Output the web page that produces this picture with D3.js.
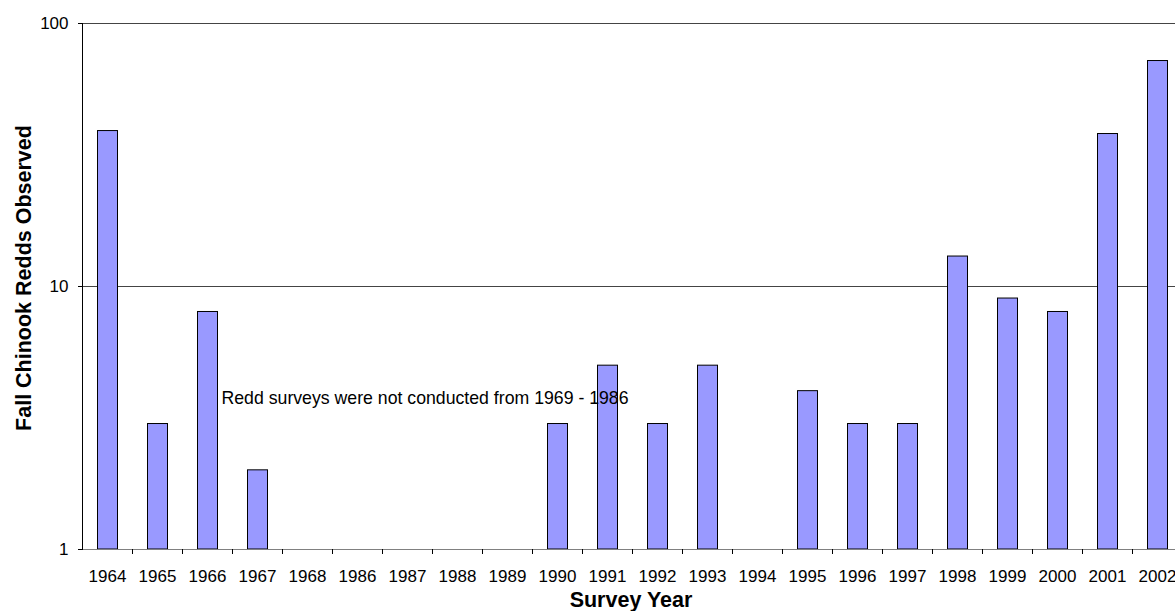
<!DOCTYPE html>
<html><head><meta charset="utf-8">
<script src="https://cdn.jsdelivr.net/npm/d3@7"></script>
<style>body{margin:0;background:#fff}svg{display:block}</style>
</head><body>
<script>
const years = ["1964","1965","1966","1967","1968","1986","1987","1988","1989","1990","1991","1992","1993","1994","1995","1996","1997","1998","1999","2000","2001","2002"];
const redds = [39,3,8,2,null,null,null,null,null,3,5,3,5,null,4,3,3,13,9,8,38,72];
const yTicks = [1,10,100];
const yTitle = "Fall Chinook Redds Observed";
const xTitle = "Survey Year";
const note = "Redd surveys were not conducted from 1969 - 1986";

const W = 1175, H = 611;
const m = {left: 82.5, top: 23, bottom: 62};
const plotW = 1100, plotH = H - m.top - m.bottom;
const svg = d3.select("body").append("svg").attr("width", W).attr("height", H)
  .style("font-family", "'Liberation Sans', Arial, sans-serif");
const g = svg.append("g").attr("transform", `translate(${m.left},${m.top})`);

const x = d3.scaleBand().domain(years).range([0, plotW]).paddingInner(0.6).paddingOuter(0.3);
const y = d3.scaleLog().domain([1, 100]).range([plotH, 0]);

// gridlines
g.selectAll(".grid").data(yTicks.filter(t => t > 1)).enter().append("line")
  .attr("x1", 0).attr("x2", plotW).attr("y1", d => y(d)).attr("y2", d => y(d))
  .attr("stroke", "#444").attr("stroke-width", 1).attr("shape-rendering", "crispEdges");

// bars
g.selectAll(".bar").data(years.map((yr, i) => ({yr, v: redds[i]})).filter(d => d.v != null))
  .enter().append("rect")
  .attr("x", d => x(d.yr)).attr("width", x.bandwidth())
  .attr("y", d => y(d.v)).attr("height", d => plotH - y(d.v))
  .attr("fill", "#9999FF").attr("stroke", "#000").attr("stroke-width", 1);

// x axis
const xb = d3.scaleBand().domain(years).range([0, plotW]);
const xAxis = g.append("g").attr("transform", `translate(0,${plotH})`);
xAxis.append("line").attr("x1", 0).attr("x2", plotW).attr("stroke", "#808080").attr("shape-rendering", "crispEdges");
xAxis.selectAll(".tk").data(years).enter().append("line")
  .attr("x1", d => xb(d) + xb.bandwidth()).attr("x2", d => xb(d) + xb.bandwidth())
  .attr("y1", 0).attr("y2", 5).attr("stroke", "#000").attr("shape-rendering", "crispEdges");
xAxis.selectAll(".lb").data(years).enter().append("text")
  .attr("x", d => xb(d) + xb.bandwidth() / 2).attr("y", 33)
  .attr("text-anchor", "middle").attr("font-size", 17).attr("fill", "#000").text(d => d);

// y axis
const yAxis = g.append("g");
yAxis.append("line").attr("y1", 0).attr("y2", plotH).attr("stroke", "#000").attr("shape-rendering", "crispEdges");
yAxis.selectAll(".tk").data(yTicks).enter().append("line")
  .attr("x1", -5).attr("x2", 0).attr("y1", d => y(d)).attr("y2", d => y(d))
  .attr("stroke", "#000").attr("shape-rendering", "crispEdges");
yAxis.selectAll(".lb").data(yTicks).enter().append("text")
  .attr("x", -14).attr("y", d => y(d)).attr("dy", "0.35em")
  .attr("text-anchor", "end").attr("font-size", 17).attr("fill", "#000").text(d => d);

// annotation
g.append("text").attr("x", x("1966") + x.bandwidth() + 4).attr("y", y(3.8) + 7)
  .attr("font-size", 17.7).attr("fill", "#000").text(note);

// titles
svg.append("text").attr("x", 631).attr("y", 607).attr("text-anchor", "middle")
  .attr("font-size", 21.5).attr("font-weight", "bold").text(xTitle);
svg.append("text").attr("transform", `translate(31,278) rotate(-90)`)
  .attr("text-anchor", "middle").attr("font-size", 21.5).attr("font-weight", "bold").text(yTitle);
</script>
</body></html>
